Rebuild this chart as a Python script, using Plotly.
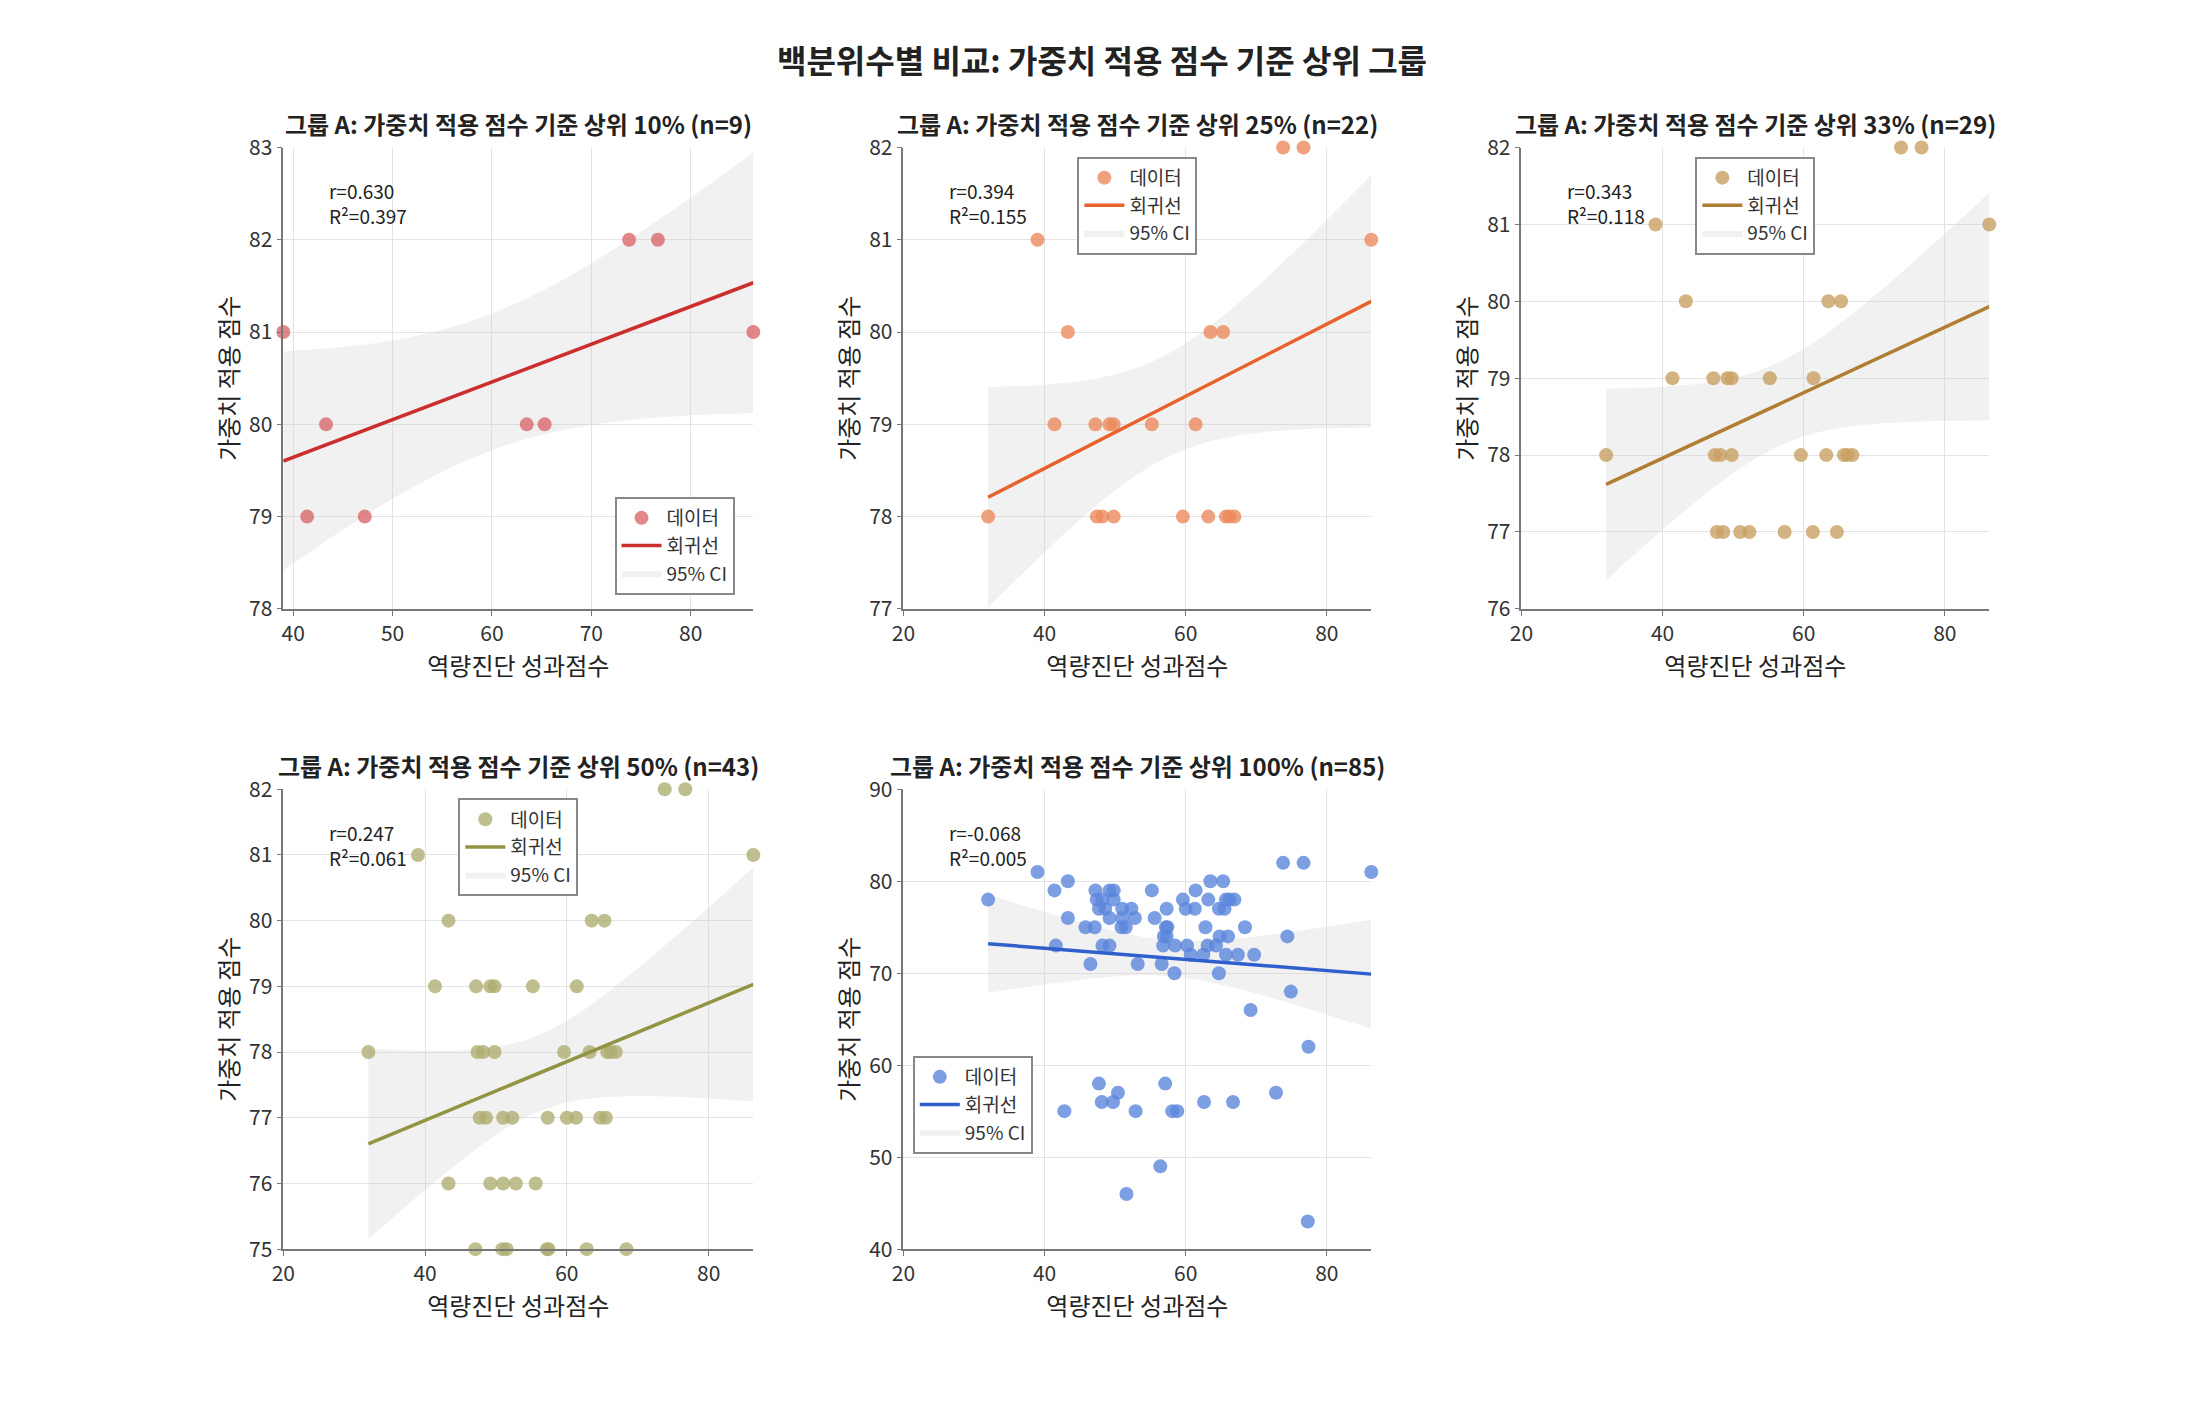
import numpy as np
import plotly.graph_objects as go

# all 85 records, ordered by weighted score (desc)
x_score = [73.8, 76.7, 39.0, 86.3, 43.3, 63.5, 65.3,
           41.4, 47.2, 49.2, 49.8, 55.2, 61.4,
           32.0, 47.4, 48.2, 49.8, 59.6, 63.2, 65.7, 66.2, 66.9,
           47.7, 48.6, 51.0, 52.3, 57.3, 61.3, 64.7, 60.0, 65.5,
           43.3, 49.2, 51.0, 52.8, 55.6,
           47.1, 50.9, 57.2, 57.4, 62.8, 68.4, 51.5, 45.8,
           56.9, 57.3, 64.8, 66.0, 74.4,
           41.6, 48.2, 49.2, 56.8, 58.5, 60.2, 63.1, 64.3,
           60.7, 62.5, 65.7, 67.4, 69.7,
           46.5, 53.2, 56.6,
           58.4, 64.7,
           74.9, 69.2, 77.4,
           47.7, 57.1,
           50.4, 72.8,
           48.1, 49.7, 62.6, 66.7,
           42.8, 52.9, 58.1, 58.8,
           56.4, 51.6, 77.3]
y_score = [82, 82, 81, 81, 80, 80, 80,
           79, 79, 79, 79, 79, 79,
           78, 78, 78, 78, 78, 78, 78, 78, 78,
           77, 77, 77, 77, 77, 77, 77, 77, 77,
           76, 76, 76, 76, 76,
           75, 75, 75, 75, 75, 75, 75, 75,
           74, 74, 74, 74, 74,
           73, 73, 73, 73, 73, 73, 73, 73,
           72, 72, 72, 72, 72,
           71, 71, 71,
           70, 70,
           68, 66, 62,
           58, 58,
           57, 57,
           56, 56, 56, 56,
           55, 55, 55, 55,
           49, 46, 43]

pct_labels = ["10%", "25%", "33%", "50%", "100%"]
group_n = [9, 22, 29, 43, 85]
dot_colors = ["#d9696b", "#ec8a5c", "#c9a064", "#aeae72", "#5b86dc"]
line_colors = ["#cc2e2e", "#e8622c", "#b07e32", "#939443", "#2e5fcc"]
y_ranges = [[78, 83], [77, 82], [76, 82], [75, 82], [40, 90]]
x_ranges = [[39, 86.3], [20, 86.3], [20, 86.3], [20, 86.3], [20, 86.3]]

FONT = "Noto Sans CJK KR"
doms_x = [[0.121, 0.337], [0.406, 0.621], [0.690, 0.905], [0.121, 0.337], [0.406, 0.621]]
doms_y = [[0.576, 0.911]] * 3 + [[0.111, 0.445]] * 2
legend_pos = [(0.96, 0.03, "right", "bottom"), (0.5, 0.98, "center", "top"),
              (0.5, 0.98, "center", "top"), (0.5, 0.98, "center", "top"),
              (0.02, 0.42, "left", "top")]

fig = go.Figure()
xs_all = np.array(x_score); ys_all = np.array(y_score)
for i in range(5):
    n = group_n[i]
    x = xs_all[:n]; y = ys_all[:n]
    ax = "" if i == 0 else str(i + 1)
    lg = "legend" if i == 0 else f"legend{i+1}"
    b, a = np.polyfit(x, y, 1)
    r = np.corrcoef(x, y)[0, 1]
    xg = np.linspace(x.min(), x.max(), 100)
    yg = a + b * xg
    resid = y - (a + b * x)
    s = np.sqrt(np.sum(resid ** 2) / (n - 2))
    se = s * np.sqrt(1 / n + (xg - x.mean()) ** 2 / np.sum((x - x.mean()) ** 2))
    t = 2.365 if n == 9 else (2.08 if n == 22 else (2.05 if n == 29 else (2.02 if n == 43 else 1.99)))
    lo, hi = yg - t * se, yg + t * se
    fig.add_trace(go.Scatter(x=np.concatenate([xg, xg[::-1]]), y=np.concatenate([hi, lo[::-1]]),
                             fill="toself", fillcolor="rgba(210,210,210,0.3)", line=dict(width=0),
                             mode="lines", name="95% CI", xaxis="x" + ax, yaxis="y" + ax,
                             legend=lg, legendrank=3))
    fig.add_trace(go.Scatter(x=x, y=y, mode="markers", name="데이터",
                             marker=dict(size=14, color=dot_colors[i], opacity=0.8),
                             xaxis="x" + ax, yaxis="y" + ax, legend=lg, cliponaxis=False,
                             legendrank=1))
    fig.add_trace(go.Scatter(x=xg, y=yg, mode="lines", name="회귀선",
                             line=dict(color=line_colors[i], width=3.5),
                             xaxis="x" + ax, yaxis="y" + ax, legend=lg, legendrank=2))
    common = dict(showgrid=True, gridcolor="#e3e3e3", showline=True, linecolor="#777", linewidth=1.5,
                  ticks="outside", ticklen=5, tickcolor="#777", zeroline=False,
                  tickfont=dict(size=21, family=FONT, color="#333"), mirror=False)
    fig.update_layout(**{
        "xaxis" + ax: dict(domain=doms_x[i], range=x_ranges[i], dtick=10 if i == 0 else 20,
                           anchor="y" + ax, title=dict(text="역량진단 성과점수", font=dict(size=24, family=FONT, color="#222"), standoff=6), **common),
        "yaxis" + ax: dict(domain=doms_y[i], range=y_ranges[i], dtick=10 if i == 4 else 1,
                           anchor="x" + ax, title=dict(text="가중치 적용 점수", font=dict(size=24, family=FONT, color="#222"), standoff=4), **common),
    })
    lx, ly, xa, ya = legend_pos[i]
    dx, dy = doms_x[i], doms_y[i]
    fig.update_layout(**{lg: dict(x=dx[0] + lx * (dx[1] - dx[0]), y=dy[0] + ly * (dy[1] - dy[0]),
                                  xanchor=xa, yanchor=ya, xref="paper", yref="paper",
                                  bgcolor="white", bordercolor="#888", borderwidth=2,
                                  font=dict(size=19, family=FONT, color="#333"),
                                  tracegroupgap=0, traceorder="normal", itemwidth=40)})
    fig.add_annotation(x=dx[0] + 0.02, y=dy[1] - 0.02, xref="paper", yref="paper",
                       xanchor="left", yanchor="top", align="left", showarrow=False,
                       text=f"r={r:.3f}<br>R²={r*r:.3f}", font=dict(size=19, family=FONT, color="#222"))
    fig.add_annotation(x=(dx[0] + dx[1]) / 2, y=dy[1] + 0.003, xref="paper", yref="paper",
                       xanchor="center", yanchor="bottom", showarrow=False,
                       text=f"<b>그룹 A: 가중치 적용 점수 기준 상위 {pct_labels[i]} (n={n})</b>",
                       font=dict(size=24, family=FONT, color="#222"))

fig.update_layout(
    width=2188, height=1407, plot_bgcolor="white", paper_bgcolor="white",
    margin=dict(l=0, r=0, t=0, b=0), font=dict(family=FONT),
    title=dict(text="<b>백분위수별 비교: 가중치 적용 점수 기준 상위 그룹</b>", x=0.5, y=0.962,
               xanchor="center", yanchor="middle", font=dict(size=32, family=FONT, color="#222")),
)
fig.write_html("out.html")
